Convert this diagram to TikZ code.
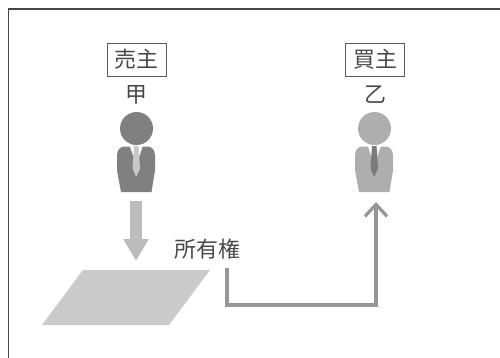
\documentclass[tikz,border=0pt]{standalone}
\usepackage{fontspec}
\newfontfamily\cjk{Noto Sans CJK JP}
\usetikzlibrary{arrows.meta}
\definecolor{darkfig}{RGB}{128,128,128}
\definecolor{lightfig}{RGB}{174,174,174}
\definecolor{lighttie}{RGB}{200,200,200}
\definecolor{darktie}{RGB}{122,122,122}
\definecolor{arrowgray}{RGB}{188,188,188}
\definecolor{parcelgray}{RGB}{202,202,202}
\definecolor{conngray}{RGB}{150,150,150}
\definecolor{framegray}{RGB}{70,70,70}
\definecolor{textgray}{RGB}{72,72,72}
\definecolor{boxgray}{RGB}{90,90,90}
\tikzset{
  cjktext/.style={font=\cjk\fontsize{22}{22}\selectfont, text=textgray, inner sep=0pt},
  labelbox/.style={cjktext, draw=boxgray, line width=0.9bp, minimum width=59bp, minimum height=33bp},
  bigarrow/.style={arrowgray, line width=12bp, -{Triangle[width=24bp,length=22bp]}},
  conn/.style={conngray, line width=3.6bp, line join=miter, -{Straight Barb[length=12bp,width=22bp,line width=3.2bp]}},
  frameline/.style={framegray, line width=1.5bp},
  pics/person/.style n args={2}{code={
    \fill[#1] (0,0) circle[radius=16.5];
    \fill[#1] (-12,18) .. controls (-16,18) and (-19.5,21) .. (-19.5,27) -- (-19.5,42) -- (-15.5,63.5) -- (15,63.5) -- (18.5,42) -- (18.5,27) .. controls (18.5,21) and (15,18) .. (11,18) -- cycle;
    \fill[white] (-7,17) -- (6.5,17) -- (0,36) -- cycle;
    \fill[#2] (-2.5,17.5) -- (2,17.5) -- (3.5,40) -- (-0.3,48.5) -- (-4,40) -- cycle;
  }}
}
\begin{document}
\begin{tikzpicture}[x=1bp,y=-1bp]
\useasboundingbox (0,0) rectangle (500,357);
% frame
\draw[frameline] (8.5,359) -- (8.5,9) -- (502,9);
% seller
\node[labelbox] (seller) at (136.5,59.5) {売主};
\node[cjktext] (ko) at (136.5,95) {甲};
\pic (p1) at (136.5,128.5) {person={darkfig}{lighttie}};
% buyer
\node[labelbox] (buyer) at (375,59.5) {買主};
\node[cjktext] (otsu) at (375.5,95) {乙};
\pic (p2) at (374.5,128.5) {person={lightfig}{darktie}};
% parcel
\fill[parcelgray] (83,270) -- (210,270) -- (169,325) -- (42,325) -- cycle;
\coordinate (p1foot) at (136,201);
\coordinate (parceltop) at (136,261);
\draw[bigarrow] (p1foot) -- (parceltop);
% ownership
\node[cjktext] (own) at (207.5,249) {所有権};
\coordinate (cstart) at (227,268);
\coordinate (ccorner) at (376,305);
\coordinate (p2foot) at (376,202);
\draw[conn] (cstart) |- (ccorner) -- (p2foot);
\end{tikzpicture}
\end{document}
